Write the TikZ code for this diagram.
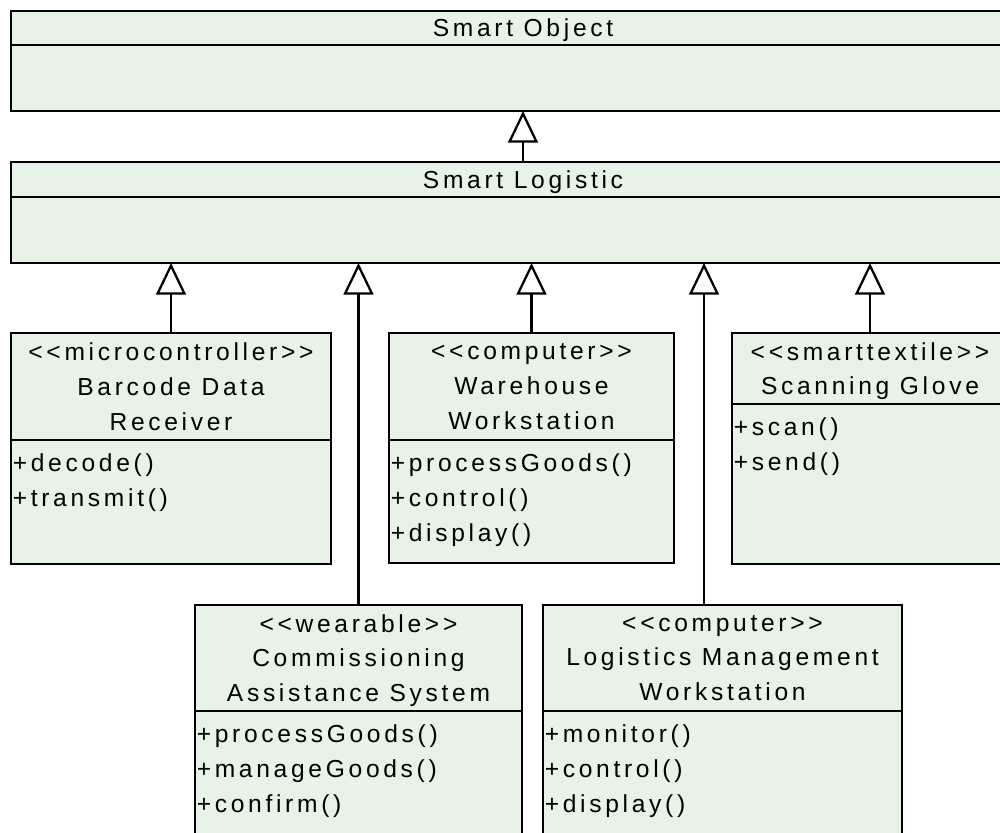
\documentclass[tikz,border=0pt]{standalone}
\usepackage{fontspec}
\setmainfont{Liberation Sans}[LetterSpace=15, Ligatures=TeXOff]
\usepackage{tikz}
\usetikzlibrary{arrows.meta}
\definecolor{umlgreen}{RGB}{230,243,230}
\newlength{\pxu}
\setlength{\pxu}{0.02cm}
\newcommand{\opslist}[3]{\parbox[c][#2\pxu][t]{#1\pxu}{\leftskip=1pt\rule{0pt}{17.9pt}#3}}

\begin{document}
\begin{tikzpicture}[x=0.02cm, y=-0.02cm, font=\fontsize{14}{19.8}\selectfont,
    classhead/.style={draw=black, fill=umlgreen, line width=1.3pt, inner sep=0pt, outer sep=0pt, anchor=north west, align=center, text depth=0pt},
    classops/.style={draw=black, fill=umlgreen, line width=1.3pt, inner sep=0pt, outer sep=0pt, anchor=north west},
    inherit/.style={-{Triangle[open, length=18pt, width=17pt]}, line width=1.3pt}]
    \useasboundingbox (0,0) rectangle (1000,832);
    \clip (0,0) rectangle (1000,832);
    \fill[white] (0,0) rectangle (1000,832);

    % top of the hierarchy
    \node[classhead, minimum width=1024\pxu, minimum height=34\pxu] (obj) at (11,11) {Smart Object};
    \node[classops, minimum width=1024\pxu, minimum height=66\pxu] (obj-ops) at (11,45) {};
    \node[classhead, minimum width=1024\pxu, minimum height=35\pxu] (log) at (11,162) {Smart Logistic};
    \node[classops, minimum width=1024\pxu, minimum height=66\pxu] (log-ops) at (11,197) {};

    % first row
    \node[classhead, minimum width=320\pxu, minimum height=107\pxu] (bar) at (11,333) {<<microcontroller>>\\Barcode Data\\Receiver};
    \node[classops] (bar-ops) at (11,440) {\opslist{320}{124}{+decode()\\+transmit()}};
    \node[classhead, minimum width=285\pxu, minimum height=107\pxu] (ware) at (389,333) {<<computer>>\\Warehouse\\Workstation};
    \node[classops] (ware-ops) at (389,440) {\opslist{285}{123}{+processGoods()\\+control()\\+display()}};
    \node[classhead, minimum width=276\pxu, minimum height=71\pxu] (glove) at (732,333) {<<smarttextile>>\\Scanning Glove};
    \node[classops] (glove-ops) at (732,404) {\opslist{276}{160}{+scan()\\+send()}};

    % second row
    \node[classhead, minimum width=327\pxu, minimum height=106\pxu] (comm) at (195,605) {<<wearable>>\\Commissioning\\Assistance System};
    \node[classops] (comm-ops) at (195,711) {\opslist{327}{140}{+processGoods()\\+manageGoods()\\+confirm()}};
    \node[classhead, minimum width=359\pxu, minimum height=106\pxu] (mgmt) at (543,605) {<<computer>>\\Logistics Management\\Workstation};
    \node[classops] (mgmt-ops) at (543,711) {\opslist{359}{140}{+monitor()\\+control()\\+display()}};
    \coordinate (mgmt-top) at ([xshift=-18.5\pxu]mgmt.north);

    \draw[inherit] (log) -- (obj-ops);
    \draw[inherit] (bar.north) -- (bar.north |- log-ops.south);
    \draw[inherit] (ware.north) -- (ware.north |- log-ops.south);
    \draw[inherit] (glove.north) -- (glove.north |- log-ops.south);
    \draw[inherit] (comm.north) -- (comm.north |- log-ops.south);
    \draw[inherit] (mgmt-top) -- (mgmt-top |- log-ops.south);
\end{tikzpicture}
\end{document}
